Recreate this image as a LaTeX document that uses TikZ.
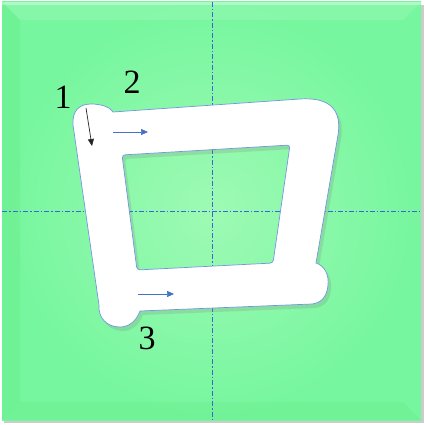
\documentclass[tikz,border=0pt]{standalone}
\usepackage{fontspec}
\setmainfont{Liberation Serif}
\usetikzlibrary{arrows.meta,shadows}
\definecolor{BoardLight}{RGB}{158,250,180}
\definecolor{BoardEdge}{RGB}{118,246,158}
\definecolor{GuideBlue}{RGB}{60,100,225}
\definecolor{StrokeBlue}{RGB}{68,114,196}
\definecolor{RimBlue}{RGB}{115,150,225}

\begin{document}
\begin{tikzpicture}[x=1pt,y=-1pt]
    \tikzset{guide/.style={GuideBlue,line width=1pt,dash pattern=on 5pt off 2pt on 1.5pt off 2pt},
      glyph/.style={fill=white,draw=RimBlue,line width=0.7pt,even odd rule,
        drop shadow={even odd rule,opacity=0.22,shadow xshift=3pt,shadow yshift=-4pt}},
      num/.style={font=\fontsize{34}{34}\selectfont,inner sep=0pt},
      dirarrow/.style={line width=0.7pt,-{Triangle[length=7pt,width=6pt]}}}
    \useasboundingbox (0,0) rectangle (424,425);
    % board with bevel
    \fill[black!20] (4,5) rectangle (424,423);
    \shade[inner color=BoardLight,outer color=BoardEdge] (2,2) rectangle (421,420);
    \fill[white,opacity=0.12] (2,2) -- (421,2) -- (403,20) -- (20,20) -- cycle;
    \fill[white,opacity=0.35] (2,2) rectangle (421,5);
    \fill[green!60!black,opacity=0.05] (2,2) -- (20,20) -- (20,402) -- (2,420) -- cycle;
    \fill[green!60!black,opacity=0.04] (2,420) -- (20,402) -- (403,402) -- (421,420) -- cycle;
    % guide lines
    \draw[guide] (212,2) -- (212,420);
    \draw[guide] (2,211) -- (421,211);
    % the character
    \path[glyph] (99,305) -- (73,125)
      .. controls (72,110) and (80,104) .. (91,104)
      .. controls (101,104) and (110,107) .. (113,112)
      -- (300,99)
      .. controls (330,97) and (342,110) .. (338,135)
      -- (316,263)
      .. controls (325,266) and (329,275) .. (328,285)
      .. controls (327,297) and (321,303) .. (312,304)
      -- (140,311)
      .. controls (136,322) and (128,327) .. (120,327)
      .. controls (106,327) and (98,317) .. (99,305) -- cycle
      [rounded corners=3pt] (122,155) -- (290,145) -- (273,263) -- (137,270) -- cycle;
    % stroke order
    \node[num] (n1) at (63,97) {1};
    \node[num] (n2) at (132,82) {2};
    \node[num] (n3) at (147,338) {3};
    \coordinate (s1a) at (86,108);
    \coordinate (s1b) at (92,146);
    \coordinate (s2a) at (113,132);
    \coordinate (s2b) at (148,132);
    \coordinate (s3a) at (138,294);
    \coordinate (s3b) at (174,294);
    \draw[dirarrow,black!85] (s1a) -- (s1b);
    \draw[dirarrow,StrokeBlue] (s2a) -- (s2b);
    \draw[dirarrow,StrokeBlue] (s3a) -- (s3b);
\end{tikzpicture}
\end{document}
